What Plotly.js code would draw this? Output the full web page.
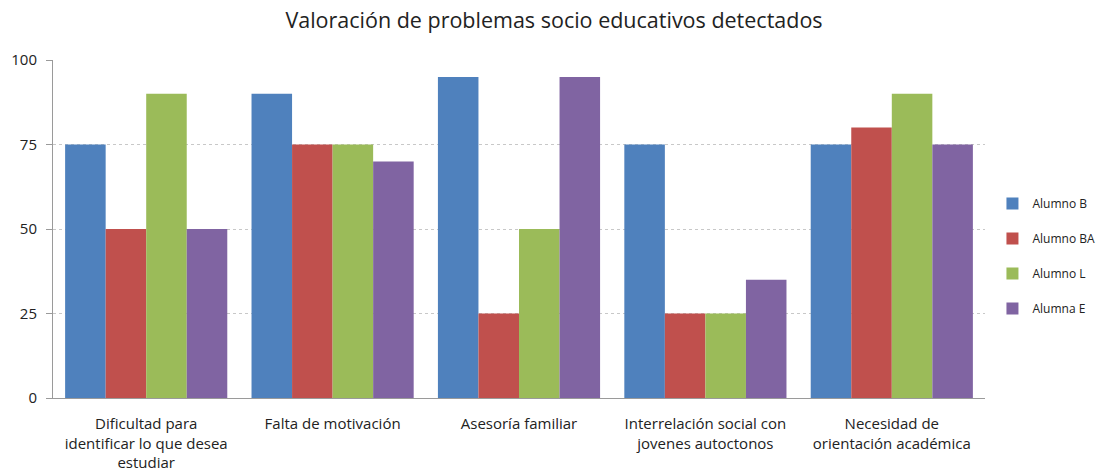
<!DOCTYPE html>
<html>
<head>
<meta charset="utf-8">
<script src="https://cdn.plot.ly/plotly-3.0.1.min.js"></script>
<style>html,body{margin:0;padding:0;background:#fff;}#chart{width:1108px;height:476px;}</style>
</head>
<body>
<div id="chart"></div>
<script>
const categories = [
  "Dificultad para<br>identificar lo que desea<br>estudiar",
  "Falta de motivación",
  "Asesoría familiar",
  "Interrelación social con<br>jovenes autoctonos",
  "Necesidad de<br>orientación académica"
];
const seriesNames = ["Alumno B", "Alumno BA", "Alumno L", "Alumna E"];
const alumnoB  = [75, 90, 95, 75, 75];
const alumnoBA = [50, 75, 25, 25, 80];
const alumnoL  = [90, 75, 50, 25, 90];
const alumnaE  = [50, 70, 95, 35, 75];
const colors = ["#4F81BD", "#C0504D", "#9BBB59", "#8064A2"];
const yTicks = [0, 25, 50, 75, 100];

const seriesValues = [alumnoB, alumnoBA, alumnoL, alumnaE];
const traces = seriesValues.map((vals, i) => ({
  type: "bar",
  name: seriesNames[i],
  x: categories,
  y: vals,
  marker: {color: colors[i], line: {width: 0}},
  legendgroup: "g" + i,
  hoverinfo: "y+name"
}));

const font = "'Open Sans', 'Liberation Sans', sans-serif";
const layout = {
  width: 1108, height: 476,
  margin: {l: 53, r: 123, t: 60, b: 78, autoexpand: false},
  paper_bgcolor: "#fff", plot_bgcolor: "#fff",
  font: {family: font, color: "#222", size: 15},
  title: {text: "Valoración de problemas socio educativos detectados",
          font: {family: font, size: 21.5, color: "#222"},
          x: 0.5, xanchor: "center", y: 0.958, yanchor: "middle"},
  barmode: "group",
  bargap: 0.13,
  bargroupgap: 0,
  xaxis: {
    type: "category",
    showgrid: false, showline: true, linecolor: "#9a9a9a", linewidth: 1,
    ticks: "", tickfont: {size: 15, family: font, color: "#222"},
    ticklabelstandoff: 12,
    automargin: false
  },
  yaxis: {
    range: [0, 100], tickvals: yTicks, ticktext: yTicks.map(String),
    showgrid: true, gridcolor: "#c8c8c8", griddash: "dot", gridwidth: 1,
    showline: true, linecolor: "#9a9a9a", linewidth: 1,
    ticks: "outside", ticklen: 6, tickcolor: "#9a9a9a",
    ticklabelstandoff: 6,
    tickfont: {size: 15, family: font, color: "#222"},
    zeroline: false, automargin: false
  },
  legend: {
    x: 1.008, xanchor: "left", y: 0.42, yanchor: "middle",
    font: {size: 12, family: font, color: "#222"},
    tracegroupgap: 16, itemwidth: 30
  },
  showlegend: true
};

Plotly.newPlot("chart", traces, layout, {displayModeBar: false, staticPlot: true});
</script>
</body>
</html>
